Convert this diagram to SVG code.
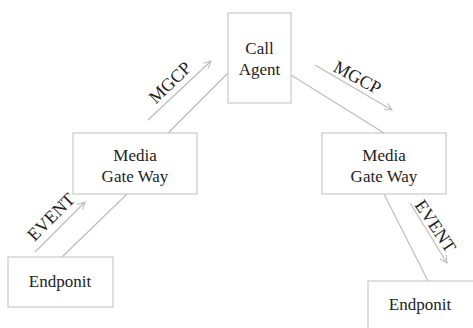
<svg xmlns="http://www.w3.org/2000/svg" width="473" height="328" viewBox="0 0 473 328">
<style>
.box{fill:#fff;stroke:#c8c8c8;stroke-width:1.2}
.t{font-family:"Liberation Serif","Times New Roman",serif;font-size:17px;fill:#222;text-anchor:middle}
.lb{font-family:"Liberation Serif","Times New Roman",serif;font-size:18px;fill:#222;text-anchor:middle}
.ln{stroke:#bdbdbd;stroke-width:1.2;fill:none}
.ar{stroke:#bdbdbd;stroke-width:1.2;fill:none;marker-end:url(#ah)}
</style>
<defs>
<marker id="ah" viewBox="0 0 10 10" refX="9" refY="5" markerWidth="9" markerHeight="9" markerUnits="userSpaceOnUse" orient="auto">
<path d="M1,1 L9,5 L1,9" fill="none" stroke="#bdbdbd" stroke-width="1.2"/>
</marker>
</defs>
<rect width="473" height="328" fill="#fff"/>
<g id="connectors">
<line class="ln" x1="168" y1="133" x2="229" y2="72"/>
<line class="ar" x1="148" y1="120" x2="211" y2="61"/>
<line class="ln" x1="291" y1="75" x2="384" y2="133"/>
<line class="ar" x1="315" y1="65" x2="392" y2="110"/>
<line class="ln" x1="62" y1="257" x2="127" y2="194"/>
<line class="ar" x1="35" y1="252" x2="85" y2="202"/>
<line class="ln" x1="384" y1="194" x2="428" y2="281"/>
<line class="ar" x1="410" y1="203" x2="447" y2="263"/>
<text class="lb" transform="translate(170,82.5) rotate(-44)" y="6">MGCP</text>
<text class="lb" transform="translate(357.5,77.5) rotate(28)" y="6">MGCP</text>
<text class="lb" transform="translate(51,217) rotate(-45)" y="6">EVENT</text>
<text class="lb" transform="translate(435.5,226) rotate(56)" y="6">EVENT</text>
</g>
<g id="call-agent">
<rect class="box" x="228" y="13" width="63" height="90"/>
<text class="t" x="259.5" y="54">Call</text>
<text class="t" x="259.5" y="75">Agent</text>
</g>
<g id="mgw-left">
<rect class="box" x="73" y="133" width="124" height="61"/>
<text class="t" x="135" y="161">Media</text>
<text class="t" x="135" y="182">Gate Way</text>
</g>
<g id="mgw-right">
<rect class="box" x="322" y="133" width="124" height="61"/>
<text class="t" x="384" y="161">Media</text>
<text class="t" x="384" y="182">Gate Way</text>
</g>
<g id="endpoint-left">
<rect class="box" x="8" y="257" width="105" height="50"/>
<text class="t" x="60" y="287">Endponit</text>
</g>
<g id="endpoint-right">
<rect class="box" x="368" y="281" width="110" height="50"/>
<text class="t" x="420" y="310">Endponit</text>
</g>
</svg>
